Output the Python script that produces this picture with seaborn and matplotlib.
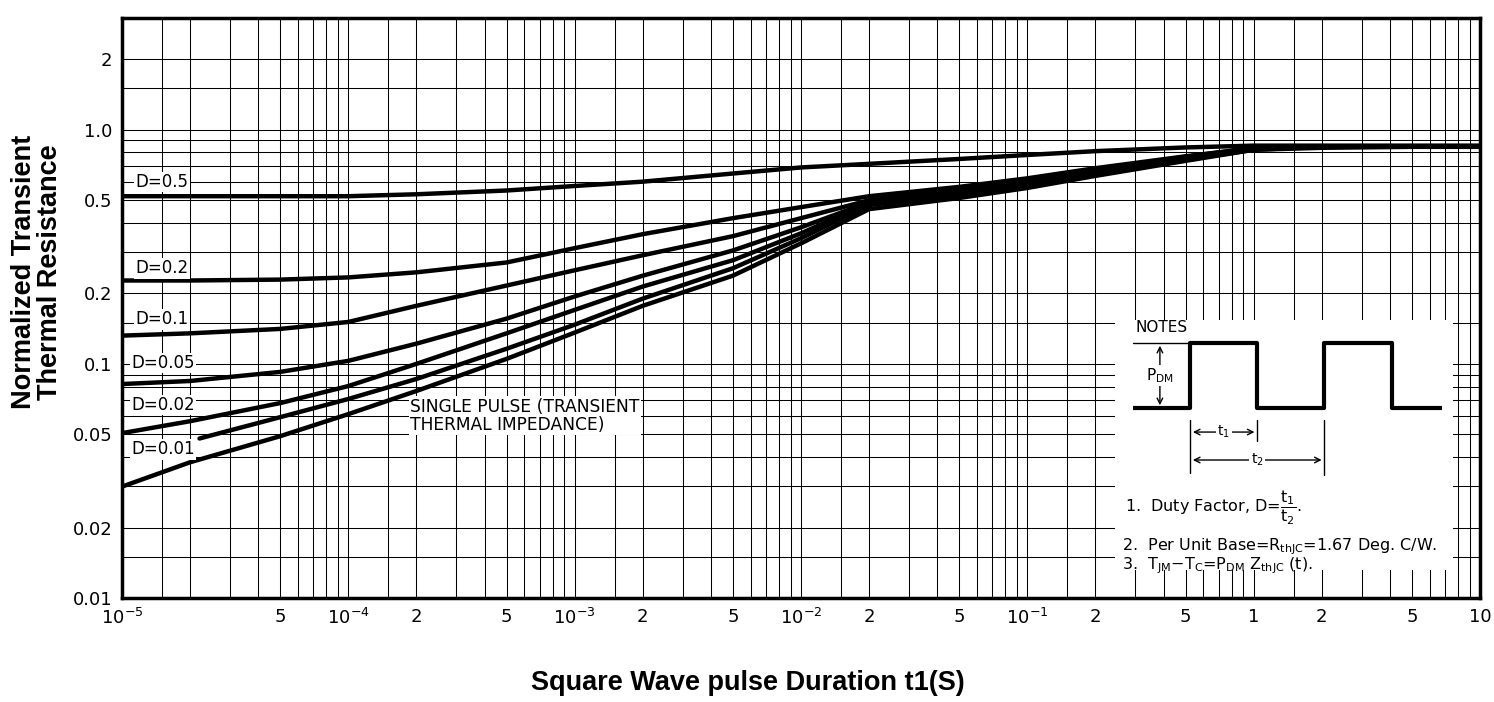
import matplotlib
matplotlib.use("Agg")
import matplotlib.pyplot as plt
import seaborn as sns
import pandas as pd
from matplotlib.ticker import FixedLocator, LogLocator, NullFormatter
from matplotlib.patches import Rectangle

# pulse duration t1 (s)
t = [1e-5, 2e-5, 5e-5, 1e-4, 2e-4, 5e-4, 1e-3, 2e-3, 5e-3, 1e-2,
     2e-2, 5e-2, 0.1, 0.2, 0.5, 1, 2, 5, 10]

z_d05 = [0.52, 0.52, 0.52, 0.52, 0.53, 0.55, 0.575, 0.60, 0.65, 0.69,
         0.715, 0.75, 0.78, 0.81, 0.84, 0.855, 0.855, 0.855, 0.855]
z_d02 = [0.227, 0.227, 0.229, 0.234, 0.246, 0.271, 0.312, 0.358, 0.419, 0.467,
         0.52, 0.57, 0.62, 0.685, 0.77, 0.835, 0.85, 0.85, 0.85]
z_d01 = [0.132, 0.135, 0.141, 0.151, 0.177, 0.216, 0.251, 0.291, 0.351, 0.419,
         0.50, 0.558, 0.61, 0.674, 0.766, 0.835, 0.85, 0.85, 0.85]
z_d005 = [0.082, 0.0845, 0.0924, 0.103, 0.122, 0.156, 0.194, 0.238, 0.305, 0.383,
          0.49, 0.547, 0.598, 0.66, 0.758, 0.829, 0.85, 0.85, 0.85]
z_d002 = [0.0506, 0.0569, 0.068, 0.0804, 0.10, 0.135, 0.17, 0.214, 0.277, 0.361,
          0.486, 0.537, 0.587, 0.654, 0.751, 0.829, 0.845, 0.85, 0.85]
# the D=0.01 curve only starts a little right of the y axis
t_d001 = [2.2e-5] + t[2:]
z_d001 = [0.048, 0.0592, 0.0708, 0.0862, 0.116, 0.147, 0.19, 0.256, 0.344,
          0.477, 0.526, 0.575, 0.647, 0.743, 0.821, 0.845, 0.85, 0.85]
z_single = [0.0299, 0.038, 0.0491, 0.061, 0.0766, 0.105, 0.136, 0.177, 0.238, 0.327,
            0.458, 0.511, 0.564, 0.635, 0.736, 0.821, 0.837, 0.845, 0.845]

x_ticks = [1e-5, 5e-5, 1e-4, 2e-4, 5e-4, 1e-3, 2e-3, 5e-3, 1e-2, 2e-2, 5e-2,
           1e-1, 2e-1, 5e-1, 1, 2, 5, 10]
x_labels = [r"$10^{-5}$", "5", r"$10^{-4}$", "2", "5", r"$10^{-3}$", "2", "5",
            r"$10^{-2}$", "2", "5", r"$10^{-1}$", "2", "5", "1", "2", "5", "10"]
y_ticks = [0.01, 0.02, 0.05, 0.1, 0.2, 0.5, 1.0, 2]
y_labels = ["0.01", "0.02", "0.05", "0.1", "0.2", "0.5", "1.0", "2"]

# curve labels at the left side
d_labels = ["D=0.5", "D=0.2", "D=0.1", "D=0.05", "D=0.02", "D=0.01"]
d_label_t = [1.15e-5, 1.15e-5, 1.15e-5, 1.1e-5, 1.1e-5, 1.1e-5]
d_label_z = [0.598, 0.256, 0.155, 0.101, 0.0667, 0.0431]

# square wave drawn in the notes
wave_x = [0, 0.85, 0.85, 1.85, 1.85, 2.85, 2.85, 3.85, 3.85, 4.6]
wave_y = [0, 0, 1, 1, 0, 0, 1, 1, 0, 0]

curves = [("D=0.5", t, z_d05), ("D=0.2", t, z_d02), ("D=0.1", t, z_d01),
          ("D=0.05", t, z_d005), ("D=0.02", t, z_d002), ("D=0.01", t_d001, z_d001),
          ("single", t, z_single)]
df = pd.concat([pd.DataFrame({"t": tt, "z": zz, "curve": name}) for name, tt, zz in curves])

sns.set_style("white")
plt.rcParams["font.family"] = ["DejaVu Sans"]
plt.rcParams["mathtext.fontset"] = "dejavusans"
for key in ["text.color", "axes.labelcolor", "xtick.color", "ytick.color", "axes.edgecolor"]:
    plt.rcParams[key] = "black"

fig = plt.figure(figsize=(14.94, 7.02), dpi=100)
ax = fig.add_axes([0.08166, 0.14815, 0.90897, 0.82621])
ax.set_xscale("log")
ax.set_yscale("log")

sns.lineplot(data=df, x="t", y="z", units="curve", estimator=None,
             color="black", linewidth=3.2, ax=ax, zorder=3)

ax.set_xlim(1e-5, 10)
ax.set_ylim(0.01, 3)

ax.xaxis.set_major_locator(FixedLocator(x_ticks))
ax.set_xticklabels(x_labels)
ax.yaxis.set_major_locator(FixedLocator(y_ticks))
ax.set_yticklabels(y_labels)
grid_subs = [1, 1.5, 2, 3, 4, 5, 6, 7, 8, 9]
ax.xaxis.set_minor_locator(LogLocator(base=10, subs=grid_subs, numticks=50))
ax.yaxis.set_minor_locator(LogLocator(base=10, subs=grid_subs, numticks=50))
ax.xaxis.set_minor_formatter(NullFormatter())
ax.yaxis.set_minor_formatter(NullFormatter())
ax.grid(which="both", color="black", linewidth=0.75)
ax.tick_params(which="minor", length=0)
ax.tick_params(axis="x", which="major", length=0, pad=7, labelsize=13)
ax.tick_params(axis="y", which="major", length=5, width=1.5, pad=2, labelsize=13)
for s in ax.spines.values():
    s.set_linewidth(2.5)

ax.set_xlabel("Square Wave pulse Duration t1(S)", fontsize=19.5, fontweight="bold",
              fontfamily="Liberation Sans")
ax.xaxis.set_label_coords(0.461, -0.1466)
ax.xaxis.label.set_va("center")
ax.set_ylabel("Normalized Transient\nThermal Resistance", fontsize=19.5, fontweight="bold",
              fontfamily="Liberation Sans", linespacing=1.0)
ax.yaxis.set_label_coords(-0.0626, 0.562)
ax.yaxis.label.set_va("center")

box = dict(facecolor="white", edgecolor="none", pad=1)
for lab, lt, lz in zip(d_labels, d_label_t, d_label_z):
    ax.text(lt, lz, lab, fontsize=12, ha="left", va="center", bbox=box, zorder=4)

ax.text(1.88e-4, 0.06, "SINGLE PULSE (TRANSIENT\nTHERMAL IMPEDANCE)", fontsize=12.3,
        ha="left", va="center", linespacing=1.0, bbox=box, zorder=4)

# notes area
ax.add_patch(Rectangle((0.731, 0.048), 0.249, 0.431, transform=ax.transAxes,
                       facecolor="white", edgecolor="none", zorder=1.6))
ax.text(0.7386, 0.155, r"1.  Duty Factor, D=$\dfrac{\mathrm{t_1}}{\mathrm{t_2}}$.",
        transform=ax.transAxes, fontsize=11.5, ha="left", va="center", zorder=4)
ax.text(0.7364, 0.088, r"2.  Per Unit Base=R$_\mathrm{thJC}$=1.67 Deg. C/W.",
        transform=ax.transAxes, fontsize=11.5, ha="left", va="center", zorder=4)
ax.text(0.7364, 0.055, r"3.  T$_\mathrm{JM}$$-$T$_\mathrm{C}$=P$_\mathrm{DM}$ Z$_\mathrm{thJC}$ (t).",
        transform=ax.transAxes, fontsize=11.5, ha="left", va="center", zorder=4)

ins = ax.inset_axes([0.7445, 0.2034, 0.2275, 0.2759])
ins.set_xlim(0, 4.6)
ins.set_ylim(-1.108, 1.354)
ins.axis("off")
ins.plot(wave_x, wave_y, color="black", linewidth=3)
ins.plot([0, 0.85], [1, 1], color="black", linewidth=1)
ins.annotate("", xy=(0.4, 1), xytext=(0.4, 0),
             arrowprops=dict(arrowstyle="<->", color="black", lw=1))
ins.text(0.4, 0.5, r"P$_\mathrm{DM}$", fontsize=11, ha="center", va="center", bbox=box)
ins.text(0.03, 1.24, "NOTES", fontsize=11, ha="left", va="center")
ins.plot([0.85, 0.85], [-0.18, -1.0], color="black", linewidth=1)
ins.plot([1.85, 1.85], [-0.18, -0.5], color="black", linewidth=1)
ins.plot([2.85, 2.85], [-0.18, -1.03], color="black", linewidth=1)
ins.annotate("", xy=(0.85, -0.37), xytext=(1.85, -0.37),
             arrowprops=dict(arrowstyle="<->", color="black", lw=1))
ins.annotate("", xy=(0.85, -0.8), xytext=(2.85, -0.8),
             arrowprops=dict(arrowstyle="<->", color="black", lw=1))
ins.text(1.35, -0.37, r"t$_1$", fontsize=10, ha="center", va="center", bbox=box)
ins.text(1.85, -0.8, r"t$_2$", fontsize=10, ha="center", va="center", bbox=box)

fig.savefig("out.png", dpi=100)
